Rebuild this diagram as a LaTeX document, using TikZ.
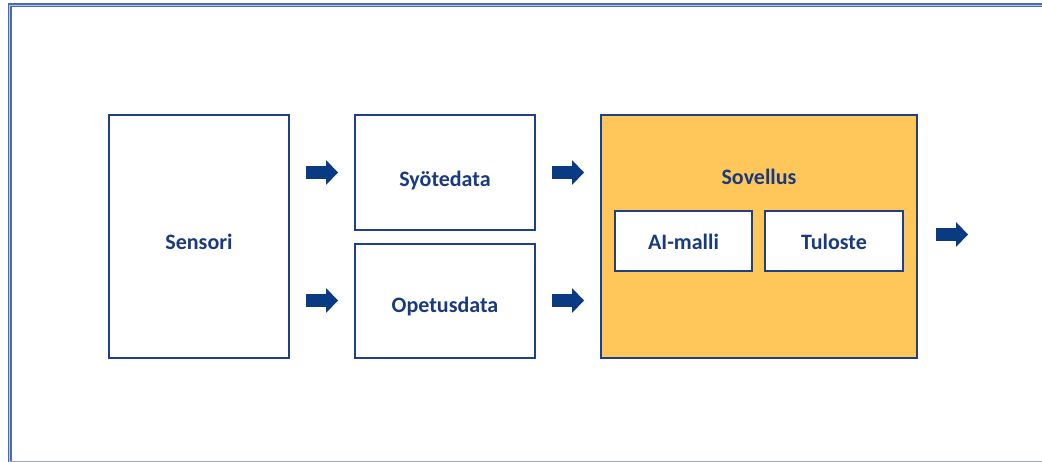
\documentclass[tikz,border=0pt]{standalone}
\usepackage{fontspec}
\setmainfont{Carlito}
\definecolor{framedark}{HTML}{4A6BAE}
\definecolor{framelight}{HTML}{B4C8EC}
\definecolor{framebottom}{HTML}{9AA6CC}
\definecolor{boxblue}{HTML}{1F3F88}
\definecolor{txtblue}{HTML}{1A3A80}
\definecolor{arrowblue}{HTML}{0A3A82}
\definecolor{sovfill}{HTML}{FFC75A}
\tikzset{
  box/.style={draw=boxblue, line width=1.8pt, fill=white, inner sep=0pt,
    font=\fontsize{22}{26}\selectfont\bfseries, text=txtblue, text depth=0pt},
  bl/.style={text height=#1},
  lbl/.style={inner sep=0pt, font=\fontsize{22}{26}\selectfont\bfseries, text=txtblue},
  pics/blockarrow/.style={code={
    \fill[arrowblue] (0,-6.3) -- (20,-6.3) -- (20,-12.5) -- (32,0) -- (20,12.5) -- (20,6.3) -- (0,6.3) -- cycle;
  }}
}
\begin{document}
\begin{tikzpicture}[x=1pt,y=-1pt]
\useasboundingbox (0,0) rectangle (1042,462);
% frame
\draw[framedark, line width=4pt] (9.8,462) -- (9.8,5.2) -- (1042,5.2);
\draw[framelight, line width=1.1pt] (9.8,462) -- (9.8,5.2) -- (1042,5.2);
\draw[framebottom, line width=1.2pt] (9.8,461.4) -- (1042,461.4);
% boxes
\node[box, bl=26pt, minimum width=180pt, minimum height=243pt] (sensori) at (199,236.5) {Sensori};
\node[box, bl=28pt, minimum width=180pt, minimum height=115pt] (syote) at (445,172.5) {Syötedata};
\node[box, bl=23pt, minimum width=180pt, minimum height=114pt] (opetus) at (445,301) {Opetusdata};
\node[box, fill=sovfill, minimum width=316pt, minimum height=243pt] (sovellus) at (759,236.5) {};
\node[lbl, anchor=base] (sovlabel) at (759,184.5) {Sovellus};
\node[box, bl=18pt, minimum width=137pt, minimum height=60pt] (aimalli) at (683.5,241) {AI-malli};
\node[box, bl=18pt, minimum width=138pt, minimum height=60pt] (tuloste) at (834,241) {Tuloste};
% arrows
\pic at (306,172.5) {blockarrow};
\pic at (306,300.5) {blockarrow};
\pic at (552,172.5) {blockarrow};
\pic at (552,300.5) {blockarrow};
\pic at (936,234.5) {blockarrow};
\end{tikzpicture}
\end{document}
